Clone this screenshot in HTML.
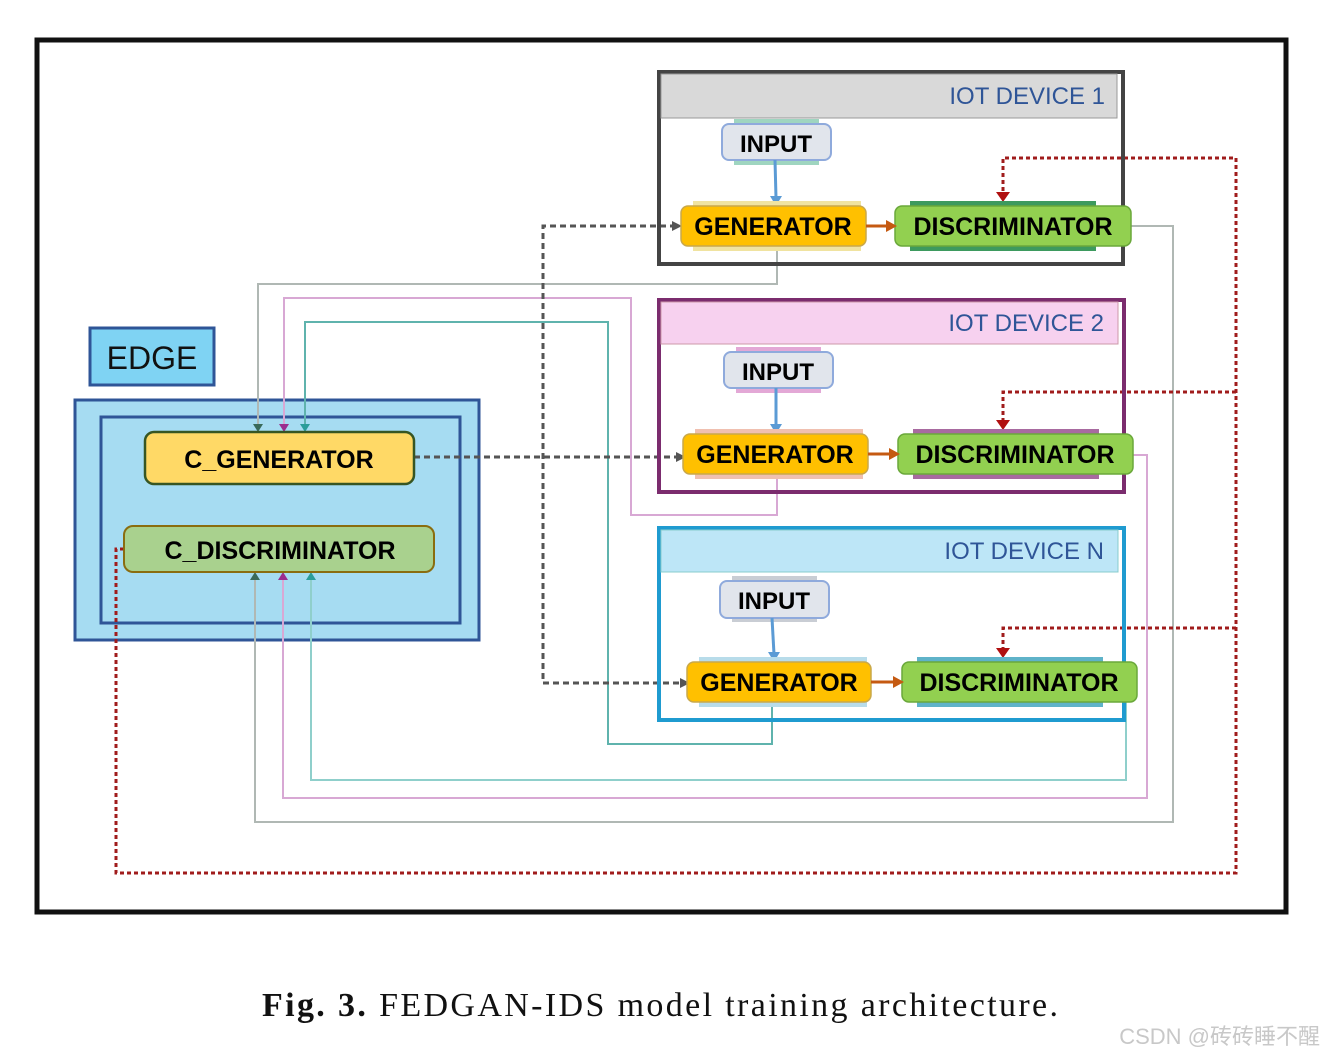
<!DOCTYPE html>
<html><head><meta charset="utf-8"><style>
body{margin:0;background:#fff;width:1324px;height:1056px;overflow:hidden}
svg text{font-family:"Liberation Sans","DejaVu Sans",sans-serif;font-weight:bold}
</style></head><body>
<svg width="1324" height="1056" viewBox="0 0 1324 1056" xmlns="http://www.w3.org/2000/svg">
<rect x="37" y="40" width="1249" height="872" fill="#fff" stroke="#111" stroke-width="5"/>

<!-- EDGE boxes (under connectors) -->
<rect x="90" y="328" width="124" height="57" fill="#7fd3f3" stroke="#2f5597" stroke-width="3"/>
<text x="152" y="369" text-anchor="middle" font-size="32" style="font-weight:normal" fill="#111">EDGE</text>
<rect x="75" y="400" width="404" height="240" fill="#a6dcf2" stroke="#2f5597" stroke-width="3"/>
<rect x="101" y="417" width="359" height="206" fill="none" stroke="#2f5597" stroke-width="3"/>

<!-- connectors -->
<g fill="none" stroke-width="2">
<polyline points="777,246 777,284 258,284 258,426" stroke="#b0b8b4"/>
<polyline points="1131,226 1173,226 1173,822 255,822 255,578" stroke="#b0b8b4"/>
<polyline points="777,474 777,515 631,515 631,298 284,298 284,426" stroke="#d8a8d4"/>
<polyline points="1133,455 1147,455 1147,798 283,798 283,578" stroke="#d8a8d4"/>
<polyline points="772,702 772,744 608,744 608,322 305,322 305,426" stroke="#5fb3ad"/>
<polyline points="1126,700 1126,780 311,780 311,578" stroke="#8fcfcb"/>
</g>
<g>
<path d="M253,424 L263,424 L258,432z" fill="#3a6a5a"/>
<path d="M279,424 L289,424 L284,432z" fill="#9b2d8f"/>
<path d="M300,424 L310,424 L305,432z" fill="#2a9d9a"/>
<path d="M250,580 L260,580 L255,572z" fill="#3a6a5a"/>
<path d="M278,580 L288,580 L283,572z" fill="#9b2d8f"/>
<path d="M306,580 L316,580 L311,572z" fill="#2a9d9a"/>
</g>
<g fill="none" stroke="#555" stroke-width="3" stroke-dasharray="6,4">
<polyline points="414,457 676,457"/>
<polyline points="676,226 543,226 543,683 680,683"/>
</g>
<path d="M672,221 L682,226 L672,231z M676,452 L686,457 L676,462z M680,678 L690,683 L680,688z" fill="#555"/>
<g fill="none" stroke="#a01c1c" stroke-width="3" stroke-dasharray="4,3">
<polyline points="124,549 116,549 116,873 1236,873 1236,158 1003,158 1003,194"/>
<polyline points="1236,392 1003,392 1003,422"/>
<polyline points="1236,628 1003,628 1003,650"/>
</g>
<path d="M996,192 L1010,192 L1003,202z M996,420 L1010,420 L1003,430z M996,648 L1010,648 L1003,658z" fill="#b01010"/>

<rect x="145" y="432" width="269" height="52" rx="9" fill="#ffd966" stroke="#375623" stroke-width="2.5"/>
<text x="279" y="468" text-anchor="middle" font-size="25">C_GENERATOR</text>
<rect x="124" y="526" width="310" height="46" rx="9" fill="#a9d18e" stroke="#8a6d10" stroke-width="2"/>
<text x="280" y="559" text-anchor="middle" font-size="25">C_DISCRIMINATOR</text>

<!-- Device 1 -->
<rect x="659" y="72" width="464" height="192" fill="none" stroke="#444" stroke-width="4"/>
<rect x="661" y="74" width="456" height="44" fill="#d9d9d9" stroke="#999" stroke-width="1"/>
<text x="1105" y="104" text-anchor="end" font-size="24" fill="#2f5597" style="font-weight:normal">IOT DEVICE 1</text>
<!-- Device 2 -->
<rect x="659" y="300" width="465" height="192" fill="none" stroke="#7b2c6e" stroke-width="4"/>
<rect x="661" y="302" width="457" height="42" fill="#f7d1ef" stroke="#c9a" stroke-width="1"/>
<text x="1104" y="331" text-anchor="end" font-size="24" fill="#2f5597" style="font-weight:normal">IOT DEVICE 2</text>
<!-- Device N -->
<rect x="659" y="528" width="465" height="192" fill="none" stroke="#1f9bd0" stroke-width="4"/>
<rect x="661" y="530" width="457" height="42" fill="#bde6f7" stroke="#8cc" stroke-width="1"/>
<text x="1104" y="559" text-anchor="end" font-size="24" fill="#2f5597" style="font-weight:normal">IOT DEVICE N</text>

<!-- inputs -->
<g font-size="24">
<rect x="734" y="119" width="85" height="46" fill="#9fd5c0"/>
<rect x="722" y="124" width="109" height="36" rx="7" fill="#e1e5ec" stroke="#8faadc" stroke-width="2"/>
<text x="776" y="152" text-anchor="middle">INPUT</text>
<rect x="736" y="347" width="85" height="46" fill="#e3a8d6"/>
<rect x="724" y="352" width="109" height="36" rx="7" fill="#e1e5ec" stroke="#8faadc" stroke-width="2"/>
<text x="778" y="380" text-anchor="middle">INPUT</text>
<rect x="732" y="576" width="85" height="46" fill="#c9cdd4"/>
<rect x="720" y="581" width="109" height="37" rx="7" fill="#e1e5ec" stroke="#8faadc" stroke-width="2"/>
<text x="774" y="609" text-anchor="middle">INPUT</text>
</g>
<g stroke="#5b9bd5" stroke-width="3">
<line x1="775" y1="160" x2="776" y2="198"/><line x1="776" y1="388" x2="776" y2="426"/><line x1="772" y1="618" x2="774" y2="654"/>
</g>
<path d="M770,196 L782,196 L776,206z M770,424 L782,424 L776,434z M768,652 L780,652 L774,662z" fill="#5b9bd5"/>

<!-- gens / discs -->
<g font-size="25">
<rect x="693" y="201" width="168" height="50" fill="#f0e3a0"/>
<rect x="681" y="206" width="185" height="40" rx="7" fill="#ffc000" stroke="#c9a84a" stroke-width="1.5"/>
<text x="773" y="235" text-anchor="middle">GENERATOR</text>
<rect x="910" y="201" width="186" height="50" fill="#3d9a5e"/>
<rect x="895" y="206" width="236" height="40" rx="7" fill="#92d050" stroke="#6aa83a" stroke-width="1.5"/>
<text x="1013" y="235" text-anchor="middle">DISCRIMINATOR</text>

<rect x="695" y="429" width="168" height="50" fill="#f0c0b0"/>
<rect x="683" y="434" width="185" height="40" rx="7" fill="#ffc000" stroke="#c9a84a" stroke-width="1.5"/>
<text x="775" y="463" text-anchor="middle">GENERATOR</text>
<rect x="913" y="429" width="186" height="50" fill="#a86aa0"/>
<rect x="898" y="434" width="235" height="40" rx="7" fill="#92d050" stroke="#6aa83a" stroke-width="1.5"/>
<text x="1015" y="463" text-anchor="middle">DISCRIMINATOR</text>

<rect x="699" y="657" width="168" height="50" fill="#b8dcea"/>
<rect x="687" y="662" width="184" height="40" rx="7" fill="#ffc000" stroke="#c9a84a" stroke-width="1.5"/>
<text x="779" y="691" text-anchor="middle">GENERATOR</text>
<rect x="917" y="657" width="186" height="50" fill="#5fb3c9"/>
<rect x="902" y="662" width="235" height="40" rx="7" fill="#92d050" stroke="#6aa83a" stroke-width="1.5"/>
<text x="1019" y="691" text-anchor="middle">DISCRIMINATOR</text>
</g>
<g stroke="#c55a11" stroke-width="3">
<line x1="866" y1="226" x2="888" y2="226"/><line x1="868" y1="454" x2="891" y2="454"/><line x1="871" y1="682" x2="895" y2="682"/>
</g>
<path d="M886,220 L897,226 L886,232z M889,448 L900,454 L889,460z M893,676 L904,682 L893,688z" fill="#c55a11"/>

<!-- caption -->
<text x="262" y="1016" font-size="34" textLength="796" lengthAdjust="spacing" style="font-family:'Liberation Serif',serif;font-weight:normal" fill="#111"><tspan font-weight="bold">Fig.  3.</tspan>  FEDGAN-IDS  model  training  architecture.</text>
<text x="1320" y="1044" text-anchor="end" font-size="22" style="font-family:'Liberation Sans','Noto Sans CJK SC',sans-serif;font-weight:normal" fill="#c8c8c8">CSDN @砖砖睡不醒</text>
</svg>
</body></html>
